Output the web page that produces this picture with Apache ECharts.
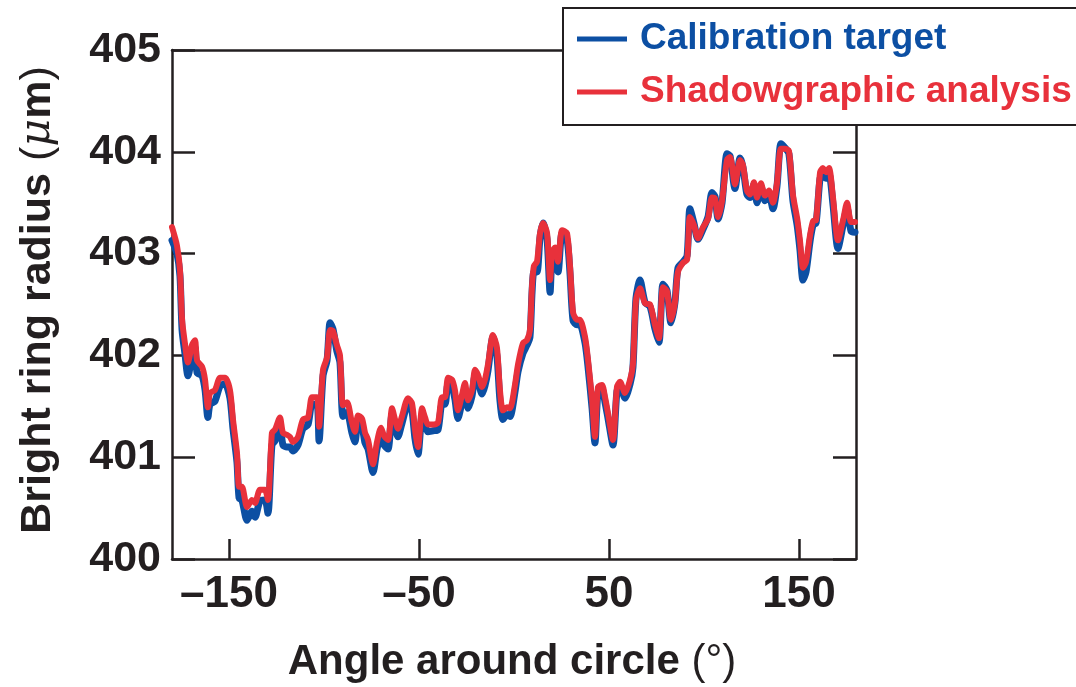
<!DOCTYPE html>
<html>
<head>
<meta charset="utf-8">
<title>Bright ring radius vs angle</title>
<script src="https://cdn.jsdelivr.net/npm/echarts@6/dist/echarts.min.js"></script>
<style>
  html, body { margin: 0; padding: 0; background: #fff; }
  #chart { width: 1076px; height: 687px; }
</style>
</head>
<body>
<div id="chart"></div>
<script>
// Angle around the circle (degrees)
const angles = [
  -180,-177.4,-175.8,-174.7,-173.2,-171.6,-169.5,-167.9,-166.8,-164.2,
  -162.6,-161.1,-160,-157.4,-154.7,-152.1,-149.5,-147.9,-145.8,-144.7,
  -143.2,-140.5,-137.9,-136.3,-133.7,-131.1,-129.5,-127.4,-125.8,-123.2,
  -121.6,-119.5,-117.9,-116.3,-113.7,-111.1,-108.4,-106.3,-103.7,-102.6,
  -100.5,-98.4,-96.8,-95.3,-93.2,-91.6,-90,-87.9,-85.3,-83.7,
  -82.1,-80,-78.4,-76.8,-74.2,-72.1,-70,-68.4,-66.3,-64.2,
  -62.6,-61.1,-59,-55.8,-53.7,-52.1,-50.5,-48.4,-46.8,-45.3,
  -42.6,-40,-37.9,-36.3,-34.7,-32.6,-31.1,-29.5,-27.4,-25.8,
  -24.2,-22.1,-20.5,-19,-16.8,-15.3,-13.7,-11.1,-9,-7.4,
  -5.8,-3.7,-2.1,0.5,2.1,4.7,6.8,8.4,9.5,10.5,
  12.1,13.7,15.3,17.4,19,20,21.6,23.2,25.3,27.9,
  29.5,31.1,33.2,34.7,37.4,39,41.1,42.6,44.2,46.3,
  47.9,49.5,52.1,54.2,55.8,58.4,61.1,62.6,64.2,66.3,
  69,71.6,74.2,76.3,78.4,80.5,82.6,84.7,86.3,89,
  91.1,92.6,94.7,96.8,99.5,102.1,104.2,105.8,107.4,109.5,
  112.1,113.7,116.3,119,120.5,122.6,124.2,126.3,127.9,130,
  132.1,134.2,136.3,138.4,140.5,142.6,144.7,146.8,149,150.5,
  152.1,153.7,155.8,157.4,159,161.1,162.6,164.2,165.8,167.9,
  170.5,173.2,175.3,177.4,179.5
];

// Radius measured on the calibration target (µm)
const calibration = [
  403.13,403.00,402.78,402.25,402.02,401.80,401.98,402.08,401.83,401.80,
  401.66,401.39,401.52,401.55,401.70,401.72,401.58,401.28,400.95,400.60,
  400.58,400.38,400.47,400.41,400.57,400.58,400.45,401.12,401.16,401.30,
  401.12,401.10,401.10,401.06,401.12,401.28,401.32,401.52,401.52,401.16,
  401.80,401.95,402.32,402.26,402.04,401.93,401.40,401.44,401.24,401.15,
  401.34,401.30,401.14,401.08,400.85,401.08,401.22,401.12,401.08,401.42,
  401.30,401.20,401.33,401.52,401.45,401.18,401.03,401.40,401.31,401.25,
  401.26,401.27,401.52,401.52,401.72,401.69,401.57,401.38,401.54,401.66,
  401.48,401.60,401.80,401.75,401.62,401.70,401.85,402.18,402.00,401.56,
  401.37,401.42,401.40,401.64,401.84,402.02,402.10,402.18,402.62,402.82,
  402.82,403.16,403.30,403.14,402.62,402.95,402.98,402.82,403.20,403.14,
  402.80,402.34,402.30,402.30,402.12,401.88,401.48,401.14,401.64,401.67,
  401.54,401.38,401.12,401.65,401.70,401.58,401.72,401.88,402.56,402.74,
  402.52,402.48,402.26,402.13,402.70,402.64,402.32,402.52,402.86,402.92,
  402.98,403.44,403.30,403.14,403.24,403.36,403.60,403.56,403.34,403.50,
  403.98,403.96,403.64,403.94,403.85,403.58,403.55,403.68,403.50,403.66,
  403.52,403.58,403.44,403.66,404.08,404.04,403.98,403.52,403.28,403.04,
  402.74,402.82,403.12,403.28,403.30,403.74,403.76,403.74,403.78,403.48,
  403.05,403.28,403.45,403.22,403.21
];

// Radius from the shadowgraphic analysis (µm)
const shadowgraphic = [
  403.26,403.08,402.84,402.35,402.12,401.93,402.10,402.15,401.95,401.89,
  401.76,401.49,401.63,401.66,401.78,401.78,401.66,401.37,401.04,400.71,
  400.71,400.51,400.58,400.55,400.68,400.68,400.58,401.24,401.27,401.39,
  401.24,401.22,401.20,401.15,401.20,401.37,401.39,401.59,401.59,401.30,
  401.86,401.98,402.25,402.24,402.10,402.00,401.51,401.54,401.34,401.25,
  401.41,401.38,401.24,401.17,400.93,401.15,401.29,401.21,401.17,401.48,
  401.37,401.28,401.40,401.58,401.53,401.27,401.10,401.48,401.39,401.32,
  401.32,401.34,401.59,401.59,401.78,401.76,401.66,401.46,401.61,401.73,
  401.56,401.66,401.86,401.81,401.69,401.76,401.91,402.20,402.08,401.66,
  401.46,401.49,401.48,401.71,401.91,402.12,402.15,402.25,402.69,402.88,
  402.92,403.20,403.30,403.20,402.74,403.01,403.06,402.92,403.23,403.20,
  402.87,402.42,402.35,402.35,402.18,401.95,401.56,401.20,401.69,401.71,
  401.59,401.43,401.17,401.69,401.74,401.63,401.76,401.91,402.54,402.66,
  402.51,402.50,402.30,402.17,402.67,402.63,402.35,402.52,402.82,402.91,
  402.94,403.36,403.28,403.15,403.26,403.34,403.55,403.54,403.36,403.52,
  403.92,403.95,403.68,403.92,403.87,403.62,403.58,403.70,403.55,403.69,
  403.57,403.62,403.50,403.69,404.03,404.03,404.01,403.58,403.35,403.13,
  402.86,402.92,403.18,403.32,403.33,403.80,403.84,403.80,403.84,403.55,
  403.13,403.33,403.50,403.31,403.31
];

const xTicks = [-150, -50, 50, 150];
const seriesNames = ['Calibration target', 'Shadowgraphic analysis'];

const BLUE = '#0c4fa3';
const RED = '#e8313b';
const INK = '#231f20';
const FONT = '"Liberation Sans", Arial, Helvetica, sans-serif';

const pairs = (xs, ys) => xs.map((x, i) => [x, ys[i]]);

const chart = echarts.init(document.getElementById('chart'), null, { renderer: 'canvas' });

const frameLine = { show: true, onZero: false, lineStyle: { color: INK, width: 2.5 } };

chart.setOption({
  animation: false,
  backgroundColor: '#fff',
  grid: { left: 172, right: 220, top: 50, bottom: 128, containLabel: false },
  xAxis: [
    {
      type: 'value', min: -180, max: 180, position: 'bottom',
      axisLine: frameLine,
      splitLine: { show: false },
      axisTick: { show: true, inside: true, length: 20, customValues: xTicks,
                  lineStyle: { color: INK, width: 2.5 } },
      axisLabel: {
        customValues: xTicks, margin: 14,
        fontFamily: FONT, fontSize: 44, fontWeight: 'bold', color: INK,
        formatter: v => (v < 0 ? '\u2013' + Math.abs(v) : String(v))
      }
    },
    {
      type: 'value', min: -180, max: 180, position: 'top',
      axisLine: frameLine, splitLine: { show: false },
      axisTick: { show: false }, axisLabel: { show: false }
    }
  ],
  yAxis: [
    {
      type: 'value', min: 400, max: 405, interval: 1, position: 'left',
      axisLine: frameLine, splitLine: { show: false },
      axisTick: { show: true, inside: true, length: 23, lineStyle: { color: INK, width: 2.5 } },
      axisLabel: { margin: 11, fontFamily: FONT, fontSize: 43, fontWeight: 'bold', color: INK }
    },
    {
      type: 'value', min: 400, max: 405, interval: 1, position: 'right',
      axisLine: frameLine, splitLine: { show: false },
      axisTick: { show: true, inside: true, length: 23, lineStyle: { color: INK, width: 2.5 } },
      axisLabel: { show: false }
    }
  ],
  legend: {
    orient: 'vertical', left: 563, top: 8,
    padding: [11, 24, 13, 14], itemGap: 13,
    itemWidth: 50, itemHeight: 5, icon: 'rect',
    backgroundColor: '#fff', borderColor: INK, borderWidth: 2, borderRadius: 0,
    textStyle: { fontFamily: FONT, fontSize: 37, fontWeight: 'bold', lineHeight: 40, padding: [0, 0, 0, 8] },
    data: [
      { name: seriesNames[0], textStyle: { color: BLUE } },
      { name: seriesNames[1], textStyle: { color: RED } }
    ],
    z: 10
  },
  series: [
    {
      name: seriesNames[0], type: 'line', xAxisIndex: 0, yAxisIndex: 0,
      data: pairs(angles, calibration), showSymbol: false, symbol: 'none',
      smooth: 0.25, color: BLUE,
      lineStyle: { color: BLUE, width: 7, join: 'round', cap: 'round' }
    },
    {
      name: seriesNames[1], type: 'line', xAxisIndex: 0, yAxisIndex: 0,
      data: pairs(angles, shadowgraphic), showSymbol: false, symbol: 'none',
      smooth: 0.25, color: RED,
      lineStyle: { color: RED, width: 6, join: 'round', cap: 'round' }
    }
  ],
  graphic: [
    {
      type: 'text', x: 512, y: 662,
      style: {
        text: '{b|Angle around circle }{r|(°)}',
        align: 'center', verticalAlign: 'middle',
        rich: {
          b: { fontFamily: FONT, fontSize: 42, fontWeight: 'bold', fill: INK },
          r: { fontFamily: FONT, fontSize: 42, fontWeight: 'normal', fill: INK }
        }
      }
    },
    {
      type: 'text', x: 38, y: 300, rotation: Math.PI / 2,
      style: {
        text: '{b|Bright ring radius }{r|(}{i|\u03bc}{b|m}{r|)}',
        align: 'center', verticalAlign: 'middle',
        rich: {
          b: { fontFamily: FONT, fontSize: 43, fontWeight: 'bold', fill: INK },
          r: { fontFamily: FONT, fontSize: 43, fontWeight: 'normal', fill: INK },
          i: { fontFamily: '"DejaVu Serif", serif', fontSize: 43, fontStyle: 'italic', fill: INK }
        }
      }
    }
  ]
});
</script>
</body>
</html>
